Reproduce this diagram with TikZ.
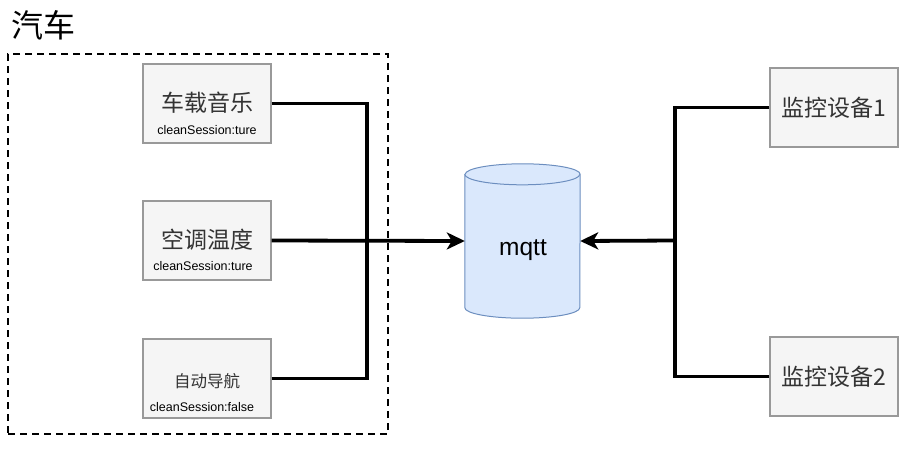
\documentclass[tikz,border=0pt]{standalone}
\usepackage{fontspec}
\setmainfont{Liberation Sans}
\newfontfamily\cjk{Noto Sans CJK SC}
\usetikzlibrary{arrows.meta,positioning}
\definecolor{boxfill}{HTML}{F5F5F5}
\definecolor{boxline}{HTML}{999999}
\definecolor{dbfill}{HTML}{DAE8FC}
\definecolor{dbline}{HTML}{6C8EBF}
\definecolor{txt}{HTML}{333333}
\begin{document}
\begin{tikzpicture}[x=1pt,y=-1pt,
	device/.style={rectangle,draw=boxline,fill=boxfill,line width=1.3pt,minimum width=128pt,minimum height=79pt,inner sep=0pt},
	devname/.style={font=\cjk\fontsize{23}{26}\selectfont,text=txt,inner sep=0pt},
	sess/.style={font=\fontsize{12.5}{14}\selectfont,inner sep=0pt},
	db/.style={draw=dbline,fill=dbfill,line width=1pt},
	wire/.style={line width=3.8pt},
	arr/.style={wire,-{Stealth[length=18pt,width=17pt,inset=5pt]}}]
	\useasboundingbox (0,0) rectangle (921,453);

	% the car
	\node[draw,dash pattern=on 7pt off 5pt,line width=2.4pt,minimum width=380pt,minimum height=380pt,inner sep=0pt] at (198,244) (car) {};
	\node[font=\cjk\fontsize{32}{36}\selectfont,inner sep=0pt] at (44,25) (cartitle) {汽车};

	\foreach \y/\n in {103.5/a1,240.5/a2,378.5/a3}
		\node[device] at (207,\y) (\n) {};
	\node[devname] at (207,103) (a1t) {车载音乐};
	\node[sess] at (207,130) (a1s) {cleanSession:ture};
	\node[devname] at (207,240) (a2t) {空调温度};
	\node[sess] at (203,266) (a2s) {cleanSession:ture};
	\node[devname,font=\cjk\fontsize{16.5}{19}\selectfont] at (207,381) (a3t) {自动导航};
	\node[sess] at (202,407) (a3s) {cleanSession:false};

	% broker
	\node[minimum width=115pt,minimum height=154pt,inner sep=0pt] at (522.5,241) (mqtt) {};
	\draw[db] ([yshift=-10.5pt]mqtt.north west) -- ([yshift=10.5pt]mqtt.south west)
		arc[start angle=180,end angle=360,x radius=57.5pt,y radius=10.5pt]
		-- ([yshift=-10.5pt]mqtt.north east)
		arc[start angle=0,end angle=180,x radius=57.5pt,y radius=10.5pt] -- cycle;
	\draw[db] ([yshift=-10.5pt]mqtt.north west)
		arc[start angle=180,end angle=360,x radius=57.5pt,y radius=10.5pt];
	\node[font=\fontsize{24.5}{28}\selectfont,inner sep=0pt] at (523,250) (mqttt) {mqtt};

	% monitors
	\foreach \y/\n in {107.5/b1,376.5/b2}
		\node[device] at (834,\y) (\n) {};
	\node[devname] at (834,108) (b1t) {监控设备1};
	\node[devname] at (834,377) (b2t) {监控设备2};

	\coordinate (busl) at (367,240.5);
	\coordinate (busr) at (675,240.5);

	\draw[wire] (a1.east) -| (busl);
	\draw[wire] (a3.east) -| (busl);
	\draw[arr] (a2.east) -- (mqtt.west);
	\draw[wire] (b1.west) -| (busr);
	\draw[wire] (b2.west) -| (busr);
	\draw[arr] (busr) -- (mqtt.east);
\end{tikzpicture}
\end{document}
